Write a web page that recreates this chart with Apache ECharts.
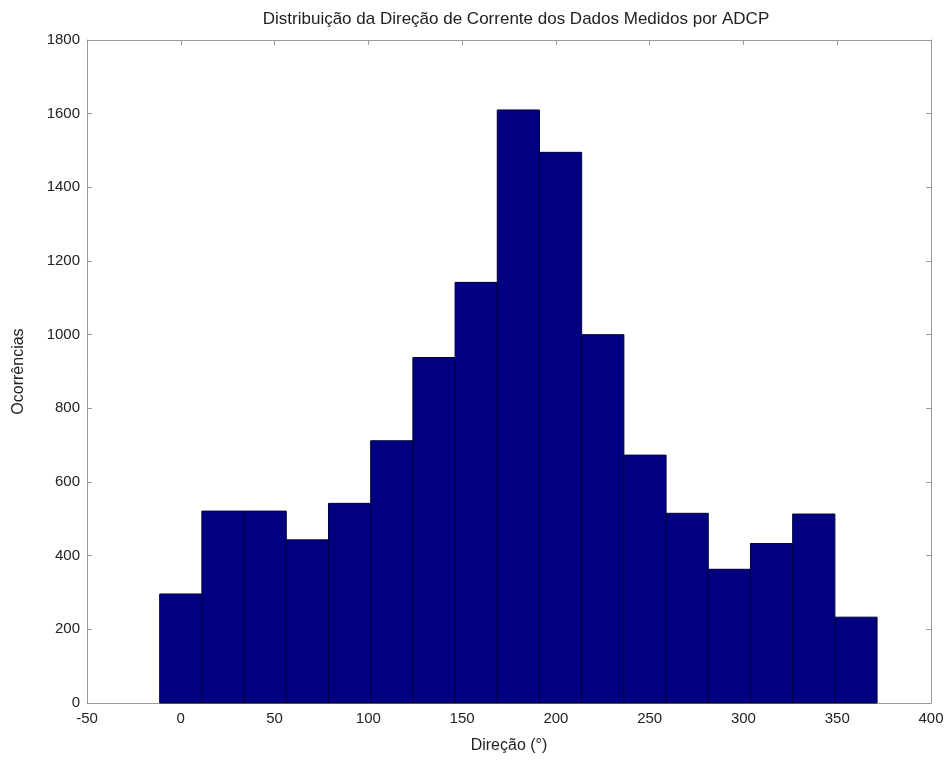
<!DOCTYPE html>
<html>
<head>
<meta charset="utf-8">
<script src="https://cdn.jsdelivr.net/npm/echarts@6/dist/echarts.min.js"></script>
<style>
html,body{margin:0;padding:0;background:#fff;}
#c{width:949px;height:760px;}
</style>
</head>
<body>
<div id="c"></div>
<script>
// Bin centres (degrees) and occurrence counts
var binCenters = [0, 22.5, 45, 67.5, 90, 112.5, 135, 157.5, 180, 202.5, 225, 247.5, 270, 292.5, 315, 337.5, 360];
var counts = [296, 521, 521, 443, 542, 712, 938, 1142, 1610, 1495, 1000, 673, 515, 363, 433, 513, 233];
var binWidth = 22.5;
var xTicks = [-50, 0, 50, 100, 150, 200, 250, 300, 350, 400];
var yTicks = [0, 200, 400, 600, 800, 1000, 1200, 1400, 1600, 1800];

var data = binCenters.map(function (c, i) { return [c, counts[i]]; });
var font = '"Liberation Sans", Arial, Helvetica, sans-serif';
var axisGray = '#9a9a9a';
var textCol = '#222';
var fs = 15;

var chart = echarts.init(document.getElementById('c'), null, {renderer: 'canvas'});

function plain(v) { return String(v); }

function baseX(show) {
  return {
    type: 'value', min: xTicks[0], max: xTicks[xTicks.length - 1], interval: 50,
    axisLine: {show: true, onZero: false, lineStyle: {color: axisGray, width: 1}},
    axisTick: {show: true, inside: true, length: 5, lineStyle: {color: axisGray}},
    axisLabel: {show: show, color: textCol, fontFamily: font, fontSize: fs, margin: 8, formatter: plain},
    splitLine: {show: false}
  };
}
function baseY(show) {
  return {
    type: 'value', min: yTicks[0], max: yTicks[yTicks.length - 1], interval: 200,
    axisLine: {show: true, onZero: false, lineStyle: {color: axisGray, width: 1}},
    axisTick: {show: true, inside: true, length: 5, lineStyle: {color: axisGray}},
    axisLabel: {show: show, color: textCol, fontFamily: font, fontSize: fs, margin: 7, formatter: plain},
    splitLine: {show: false}
  };
}

var xBottom = baseX(true);
xBottom.position = 'bottom';
xBottom.name = 'Direção (°)';
xBottom.nameLocation = 'middle';
xBottom.nameGap = 35;
xBottom.nameTextStyle = {color: textCol, fontFamily: font, fontSize: 16};
var xTop = baseX(false);
xTop.position = 'top';

var yLeft = baseY(true);
yLeft.position = 'left';
yLeft.name = 'Ocorrências';
yLeft.nameLocation = 'middle';
yLeft.nameGap = 60;
yLeft.nameTextStyle = {color: textCol, fontFamily: font, fontSize: 16};
var yRight = baseY(false);
yRight.position = 'right';

chart.setOption({
  backgroundColor: '#fff',
  animation: false,
  title: {
    text: 'Distribuição da Direção de Corrente dos Dados Medidos por ADCP',
    left: 511, top: 6, textAlign: 'center',
    textStyle: {color: textCol, fontFamily: font, fontSize: 17, fontWeight: 'normal'}
  },
  grid: {left: 87, right: 18, top: 40, bottom: 57, containLabel: false},
  xAxis: [xBottom, xTop],
  yAxis: [yLeft, yRight],
  series: [{
    type: 'custom',
    xAxisIndex: 0, yAxisIndex: 0,
    data: data,
    renderItem: function (params, api) {
      var c = api.value(0), v = api.value(1);
      var p0 = api.coord([c - binWidth / 2, v]);
      var p1 = api.coord([c + binWidth / 2, 0]);
      return {
        type: 'rect',
        shape: {x: p0[0], y: p0[1], width: p1[0] - p0[0], height: p1[1] - p0[1]},
        style: {fill: '#000080', stroke: '#00003a', lineWidth: 1}
      };
    }
  }]
});
</script>
</body>
</html>
